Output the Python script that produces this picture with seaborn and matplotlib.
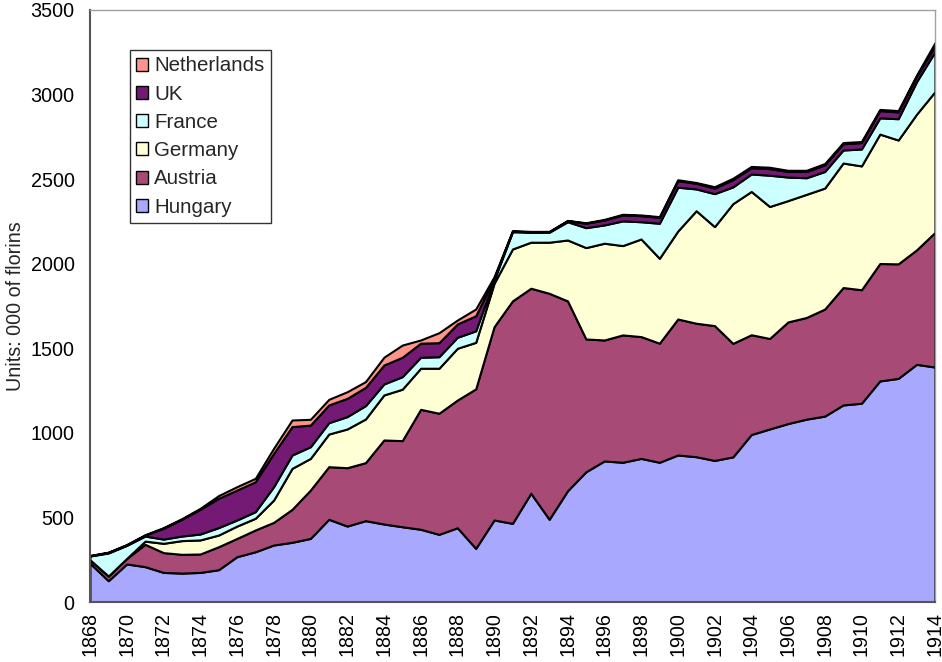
import numpy as np
import matplotlib
matplotlib.use("Agg")
import matplotlib.pyplot as plt
import seaborn as sns
from matplotlib.patches import Patch

# data (000 of florins)
years = list(range(1868, 1915))

hungary = [229, 126, 225, 209, 175, 171, 175, 191, 268, 297,
           337, 353, 376, 489, 449, 481, 461, 445, 430, 400,
           439, 317, 485, 465, 643, 489, 658, 770, 834, 826,
           849, 826, 869, 859, 837, 858, 990, 1023, 1055, 1081,
           1099, 1165, 1175, 1307, 1322, 1405, 1389]
austria = [21, 28, 33, 132, 117, 111, 109, 136, 108, 129,
           134, 195, 286, 311, 345, 343, 497, 509, 709, 716,
           755, 943, 1143, 1315, 1212, 1336, 1122, 785, 715, 753,
           720, 704, 804, 789, 797, 671, 590, 535, 601, 601,
           633, 694, 671, 694, 677, 677, 796]
germany = [0, 0, 0, 19, 55, 81, 83, 69, 73, 69,
           132, 242, 187, 193, 229, 258, 266, 304, 243, 266,
           306, 275, 256, 307, 272, 302, 360, 540, 572, 528,
           577, 502, 520, 665, 585, 826, 847, 780, 717, 728,
           715, 736, 732, 765, 732, 802, 832]
france = [22, 136, 77, 30, 25, 27, 35, 44, 36, 39,
          79, 79, 69, 67, 73, 79, 65, 74, 65, 68,
          65, 68, 20, 102, 59, 59, 108, 118, 108, 146,
          102, 207, 259, 129, 195, 99, 103, 185, 139, 98,
          98, 77, 100, 96, 126, 192, 236]
uk = [2, 3, 3, 5, 64, 99, 146, 173, 177, 177,
      197, 168, 128, 105, 108, 108, 112, 115, 83, 83,
      79, 89, 10, 3, 3, 3, 6, 26, 29, 35,
      36, 35, 39, 33, 33, 43, 37, 39, 33, 37,
      39, 37, 38, 43, 40, 33, 35]
netherlands = [1, 2, 2, 3, 4, 4, 6, 16, 20, 20,
               30, 39, 34, 33, 39, 34, 46, 72, 19, 59,
               23, 40, 9, 3, 2, 2, 2, 3, 4, 4,
               4, 4, 5, 5, 8, 8, 8, 8, 7, 7,
               8, 7, 6, 7, 8, 6, 18]

series = ["Hungary", "Austria", "Germany", "France", "UK", "Netherlands"]
colors = ["#A8A8FF", "#A84A76", "#FFFFD6", "#CCFFFF", "#741A74", "#FF958A"]

sns.set_theme(style="white")
plt.rcParams["font.family"] = ["Liberation Sans", "DejaVu Sans"]

fig, ax = plt.subplots(figsize=(9.42, 6.62), dpi=100)
fig.subplots_adjust(left=0.0955, right=0.9925, bottom=0.0906, top=0.985)

ax.stackplot(years, hungary, austria, germany, france, uk, netherlands,
             colors=colors, edgecolor="black", linewidth=1.5)

ax.set_xlim(1868, 1914)
ax.set_ylim(0, 3500)
ax.set_yticks(np.arange(0, 3501, 500))
ax.set_xticks(years)
ax.set_xticklabels([str(y) if (y - 1868) % 2 == 0 else "" for y in years],
                   rotation=90)

ax.tick_params(axis="both", direction="out", length=4, width=1.2,
               color="#555555", labelsize=14.2, labelcolor="black")
ax.tick_params(axis="y", pad=7)
ax.tick_params(axis="x", pad=3)

for side in ["left", "bottom"]:
    ax.spines[side].set_color("#555555")
    ax.spines[side].set_linewidth(1.5)
for side in ["top", "right"]:
    ax.spines[side].set_color("#A0A0A0")
    ax.spines[side].set_linewidth(1.0)

ax.set_ylabel("Units: 000 of florins", fontsize=14.2, labelpad=4)

handles = [Patch(facecolor=c, edgecolor="black", linewidth=1.0) for c in colors]
leg = ax.legend(handles[::-1], series[::-1], loc="upper left",
                bbox_to_anchor=(0.047, 0.932), borderaxespad=0,
                fontsize=14.8, frameon=True, fancybox=False,
                handlelength=0.6, handleheight=0.6, handletextpad=0.3,
                labelspacing=0.45, borderpad=0.3)
leg.get_frame().set_edgecolor("black")
leg.get_frame().set_linewidth(1.0)

fig.savefig("out.png", dpi=100)
